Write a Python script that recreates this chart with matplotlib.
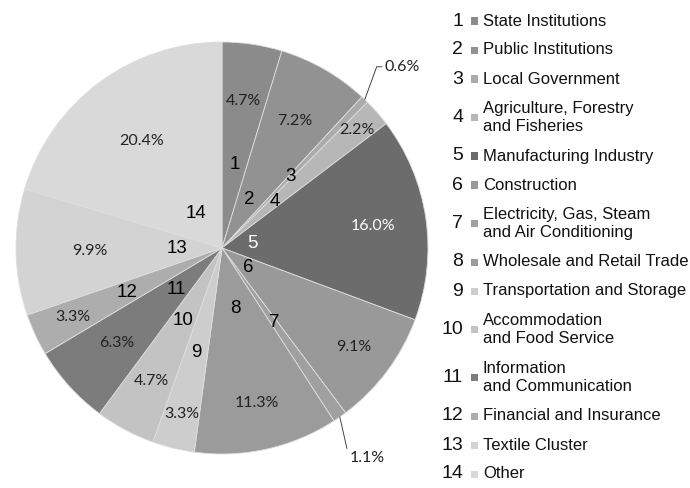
import matplotlib.pyplot as plt
from matplotlib.patches import Rectangle
import numpy as np

# data
names = ["State Institutions", "Public Institutions", "Local Government",
         "Agriculture, Forestry\nand Fisheries", "Manufacturing Industry",
         "Construction", "Electricity, Gas, Steam\nand Air Conditioning",
         "Wholesale and Retail Trade", "Transportation and Storage",
         "Accommodation\nand Food Service", "Information\nand Communication",
         "Financial and Insurance", "Textile Cluster", "Other"]
shares = [4.7, 7.2, 0.6, 2.2, 16.0, 9.1, 1.1, 11.3, 3.3, 4.7, 6.3, 3.3, 9.9, 20.4]
grays = ["#8b8b8b", "#929292", "#ababab", "#b7b7b7", "#6c6c6c", "#999999", "#a0a0a0",
         "#9b9b9b", "#cdcdcd", "#c3c3c3", "#7c7c7c", "#adadad", "#d3d3d3", "#d9d9d9"]

# where the labels sit inside each wedge (fraction of radius)
pct_r = [0.72, 0.71, None, 0.87, 0.74, 0.80, None, 0.77, 0.83, 0.73, 0.69, 0.80, 0.64, 0.65]
num_r = [0.41, 0.27, 0.48, 0.34, 0.15, 0.16, 0.44, 0.30, 0.52, 0.40, 0.30, 0.51, 0.22, 0.21]

W, H = 690, 488
fig = plt.figure(figsize=(W / 100, H / 100), dpi=100)

cx, cy, R = 222, 248, 206
ax = fig.add_axes([(cx - R) / W, (H - cy - R) / H, 2 * R / W, 2 * R / H])
wedges, _ = ax.pie(shares, colors=grays, startangle=90, counterclock=False,
                   wedgeprops=dict(edgecolor="#dedede", linewidth=0.6))
ax.set_xlim(-1, 1)
ax.set_ylim(-1, 1)
ax.set_aspect("equal")

pct_font = dict(family=["Lato", "DejaVu Sans"], fontsize=11.5)
num_font = dict(family=["Liberation Sans", "DejaVu Sans"], fontsize=13.5)

for i, w in enumerate(wedges):
    mid = np.deg2rad((w.theta1 + w.theta2) / 2)
    c, s = np.cos(mid), np.sin(mid)
    txt = f"{shares[i]:.1f}%"
    col = "white" if i == 4 else "#222222"
    if pct_r[i] is not None:
        ax.text(pct_r[i] * c, pct_r[i] * s, txt, ha="center", va="center", color=col, **pct_font)
    ax.text(num_r[i] * c, num_r[i] * s, str(i + 1), ha="center", va="center",
            color="white" if i == 4 else "black", **num_font)

# small wedges get a leader line
m3 = np.deg2rad((wedges[2].theta1 + wedges[2].theta2) / 2)
ax.annotate("0.6%", xy=(np.cos(m3), np.sin(m3)), xytext=(0.79, 0.88),
            ha="left", va="center", color="#222222", **pct_font,
            arrowprops=dict(arrowstyle="-", color="#444444", lw=0.7, shrinkA=0, shrinkB=0,
                            connectionstyle="angle,angleA=0,angleB=70,rad=0"))
m7 = np.deg2rad((wedges[6].theta1 + wedges[6].theta2) / 2)
ax.annotate("1.1%", xy=(np.cos(m7), np.sin(m7)), xytext=(0.62, -1.02),
            ha="left", va="center", color="#222222", **pct_font,
            arrowprops=dict(arrowstyle="-", color="#444444", lw=0.7, shrinkA=0, shrinkB=0,
                            relpos=(0, 0.3)))

# hand-made legend on the right
leg_font = dict(family=["Liberation Sans", "DejaVu Sans"], fontsize=12)
y = 21
prev_lines = 1
for i, name in enumerate(names):
    lines = name.count("\n") + 1
    if i > 0:
        y += 29 + 9.5 * ((prev_lines - 1) + (lines - 1))
    fy = 1 - y / H
    fig.text(463 / W, fy, str(i + 1), ha="right", va="center", fontsize=14,
             family=["Liberation Sans", "DejaVu Sans"], color="#111111")
    fig.patches.append(Rectangle((471 / W, fy - 3.5 / H), 7 / W, 7 / H,
                                 transform=fig.transFigure, facecolor=grays[i],
                                 edgecolor="none"))
    fig.text(483 / W, fy, name, ha="left", va="center", linespacing=1.27,
             color="#111111", **leg_font)
    prev_lines = lines

fig.savefig("out.png", dpi=100)
